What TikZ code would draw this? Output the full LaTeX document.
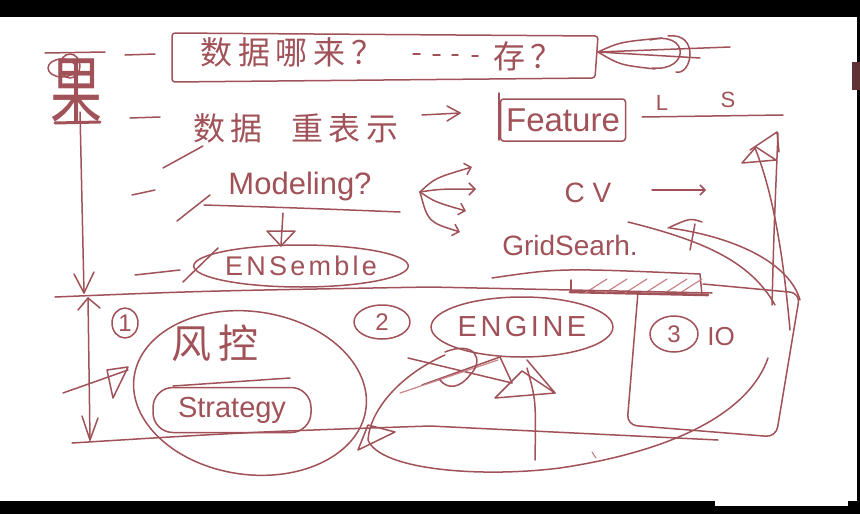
\documentclass[tikz,border=0pt]{standalone}
\usepackage{fontspec}
\setmainfont{Liberation Sans}
\newfontfamily\cjk{Noto Sans CJK SC}[LetterSpace=18]
\newfontfamily\wide{Liberation Sans}[LetterSpace=12]
\usetikzlibrary{arrows.meta,shapes.geometric}
\definecolor{ink}{RGB}{160,82,88}
\definecolor{inkl}{RGB}{200,132,136}
\begin{document}
\begin{tikzpicture}[x=1pt,y=-1pt,
  pen/.style={draw=ink,line width=1.5pt,line cap=round,line join=round},
  lpen/.style={draw=inkl,line width=1.2pt,line cap=round,line join=round},
  hw/.style={text=ink,inner sep=0pt},
  zh/.style={hw,font=\cjk\fontsize{32}{32}\selectfont},
  en/.style={hw,font=\fontsize{28}{28}\selectfont},
  num/.style={pen,ellipse,inner sep=0pt,text=ink,font=\fontsize{24}{24}\selectfont}]
\useasboundingbox (0,0) rectangle (860,514);
\fill[white] (0,0) rectangle (860,514);
\fill[black] (0,0) rectangle (860,17);
\fill[black] (0,501) rectangle (860,514);
\fill[black] (857,17) rectangle (860,501);
\fill[ink!60!black] (852,62) rectangle (860,90);
\fill[white] (715,487) rectangle (848,506);

% left character and vertical arrow
\node[hw,font=\cjk\fontsize{52}{52}\selectfont] (guo) at (76,92) {\scalebox{1}[1.45]{果}};
\draw[pen] (62,68) ellipse (14 and 9);
\draw[pen] (70,66) ellipse (10 and 12);
\draw[pen] (45,53) -- (105,52);
\draw[pen,line width=3pt] (55,123) -- (100,122);
\coordinate (vtop) at (80,112);
\coordinate (vbot) at (84,293);
\draw[pen] (vtop) -- (vbot);
\draw[pen] (74,274) -- (vbot) -- (94,272);

% dashes
\draw[pen] (125,55) -- (155,54);
\draw[pen] (130,118) -- (160,117);
\draw[pen] (132,195) -- (155,190);
\draw[pen] (135,275) -- (180,270);
\draw[pen] (163,168) -- (203,146);
\draw[pen] (177,221) -- (210,195);
\draw[pen] (183,282) -- (218,248);

% row 1 box
\draw[pen,rounded corners=3] (172,33) -- (598,36) -- (595,78) -- (172,82) -- cycle;
\node[zh] (q1) at (292,52) {数据哪来？};
\draw[pen] (413,54) -- (420,54) (433,55) -- (440,55) (452,55) -- (458,55) (472,56) -- (478,56);
\node[zh] (cun) at (528,56) {存？};
\coordinate (ar1) at (598,52);
\draw[pen] (ar1) -- (730,47);
\draw[pen] (ar1) -- (700,58);
\draw[pen] (ar1) .. controls (620,42) .. (662,38);
\draw[pen] (ar1) .. controls (620,65) .. (655,69);
\draw[pen] (650,40) .. controls (690,30) and (690,72) .. (652,68);
\draw[pen] (668,36) .. controls (700,32) and (692,76) .. (676,72);

% row 2
\node[zh] (shuju) at (228,128) {数据};
\node[zh] (chong) at (345,128) {重表示};
\coordinate (a2s) at (422,115);
\coordinate (a2e) at (460,113);
\draw[pen] (a2s) -- (a2e);
\draw[pen] (447,106) -- (a2e) -- (447,121);
\node[pen,rounded corners=3,minimum width=125,minimum height=42,inner sep=0pt,text=ink,font=\fontsize{33}{33}\selectfont] (feat) at (563,120) {Feature};
\draw[pen] (499,93) -- (499,140);
\node[hw,font=\fontsize{22}{22}\selectfont] (L) at (662,103) {L};
\node[hw,font=\fontsize{22}{22}\selectfont] (S) at (728,100) {S};
\draw[pen] (642,117) -- (783,115);

% row 3
\node[en,font=\fontsize{31}{31}\selectfont] (model) at (300,186) {Modeling?};
\draw[pen] (204,205) .. controls (300,208) .. (400,212);
\coordinate (m1) at (283,213);
\draw[pen] (m1) -- (281,245);
\draw[pen] (267,231) -- (295,231) -- (281,246) -- cycle;
\node[pen,ellipse,minimum width=200,minimum height=42,inner sep=0pt,text=ink,font=\wide\fontsize{27}{27}\selectfont] (ens) at (301,266) {ENSemble};

% fan arrows
\coordinate (fan) at (420,192);
\draw[pen,-{Straight Barb[length=6pt,width=12pt]}] (fan) .. controls (435,178) .. (472,167);
\draw[pen,-{Straight Barb[length=6pt,width=12pt]}] (fan) .. controls (440,189) .. (476,189);
\draw[pen,-{Straight Barb[length=6pt,width=12pt]}] (fan) .. controls (435,202) .. (466,211);
\draw[pen,-{Straight Barb[length=6pt,width=12pt]}] (fan) .. controls (428,222) .. (460,232);

\node[en,font=\fontsize{28}{28}\selectfont] (cv) at (588,193) {C V};
\coordinate (cva) at (652,190);
\coordinate (cvb) at (706,190);
\draw[pen,-{Straight Barb[length=5pt,width=10pt]}] (cva) -- (cvb);
\node[en] (grid) at (570,245) {GridSearh.};

% hatched bar
\draw[pen] (492,278) .. controls (560,268) .. (700,274) -- (702,295);
\draw[pen,line width=2.6pt] (570,292) -- (708,295);
\draw[pen] (571,280) -- (571,291);
\foreach \x in {585,605,625,645,665,680} \draw[lpen] (\x,293) -- (\x+22,279);

% crossing curves right
\draw[pen] (628,222) .. controls (700,240) and (750,260) .. (775,305);
\draw[pen] (670,228) .. controls (740,238) and (790,265) .. (800,300);
\draw[pen] (668,228) .. controls (690,218) .. (702,222);
\draw[pen] (695,224) -- (690,250);
% right upward arrow
\draw[pen] (772,305) .. controls (774,230) .. (778,133);
\draw[pen] (790,330) .. controls (782,240) and (770,185) .. (755,148);
\draw[pen] (742,163) -- (756,147) -- (776,160) -- cycle;
\draw[pen] (750,150) -- (777,132) -- (779,152);

% separators
\draw[pen] (55,297) .. controls (200,291) .. (430,287) -- (712,293);
\draw[pen] (72,443) .. controls (250,432) .. (430,426) -- (718,440);
\coordinate (dtop) at (88,298);
\coordinate (dbot) at (90,440);
\draw[pen] (dtop) -- (dbot);
\draw[pen] (78,310) -- (dtop) -- (100,308);
\draw[pen] (82,416) -- (dbot) -- (98,418);

% section 1
\node[num,minimum width=26,minimum height=30] (n1) at (125,323) {1};
\node[pen,ellipse,minimum width=234,minimum height=163,rotate=-8] (big1) at (250,393) {};
\node[hw,font=\cjk\fontsize{40}{40}\selectfont] (fk) at (215,343) {风控};
\draw[pen] (173,386) -- (290,378);
\node[pen,rounded corners=20,minimum width=158,minimum height=45,inner sep=0pt,text=ink,font=\fontsize{29}{29}\selectfont] (strat) at (232,410) {Strategy};
\coordinate (a1s) at (63,393);
\coordinate (a1e) at (128,370);
\draw[pen] (a1s) -- (a1e);
\draw[pen] (107,370) -- (128,367) -- (113,398) -- cycle;

% section 2
\node[num,minimum width=56,minimum height=34] (n2) at (382,322) {2};
\node[pen,ellipse,minimum width=170,minimum height=60,inner sep=0pt,text=ink,font=\wide\fontsize{29}{29}\selectfont] (eng) at (522,327) {ENGINE};
\draw[pen] (445,355) .. controls (400,375) and (370,410) .. (368,440) .. controls (380,470) and (480,478) .. (560,468) .. controls (680,450) and (750,410) .. (768,358);
\draw[pen] (358,450) -- (368,425) -- (395,432) -- cycle;
\draw[pen] (408,358) -- (512,383);
\draw[pen] (422,385) -- (500,357);
\draw[lpen] (400,393) -- (498,360);
\draw[pen] (445,352) .. controls (475,340) and (485,360) .. (470,375) .. controls (460,388) and (448,390) .. (440,380);
\draw[pen] (500,357) -- (512,383);
\draw[pen] (495,398) -- (522,371) -- (555,393) -- cycle;
\draw[pen] (527,360) -- (555,393);
\draw[pen] (527,368) .. controls (536,400) .. (535,460);
\draw[lpen] (592,452) -- (596,458);

% section 3
\draw[pen,rounded corners=10] (703,284) -- (800,293) -- (776,437) -- (627,425) -- (638,292);
\node[num,minimum width=48,minimum height=36] (n3) at (674,334) {3};
\node[hw,font=\fontsize{26}{26}\selectfont] (io) at (721,337) {IO};
\end{tikzpicture}
\end{document}
